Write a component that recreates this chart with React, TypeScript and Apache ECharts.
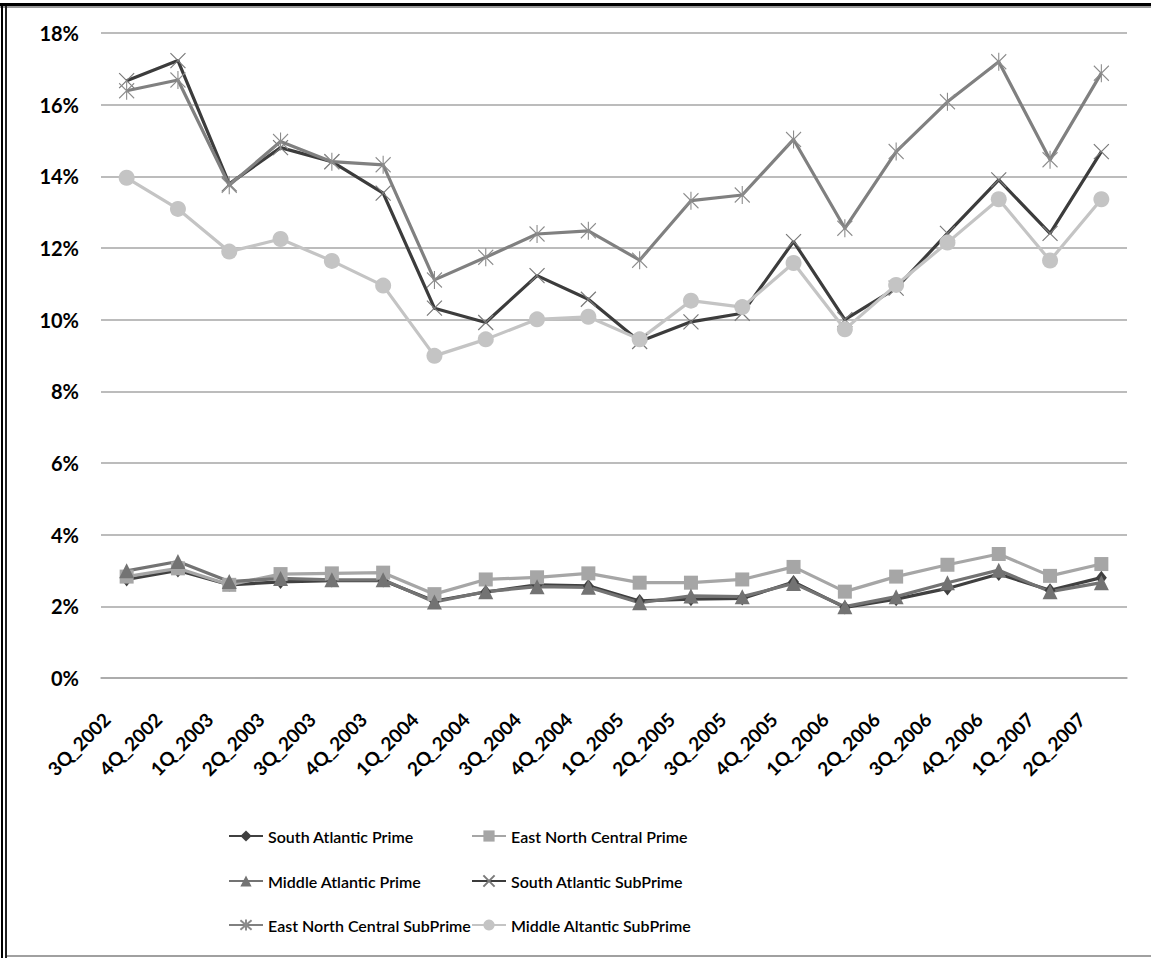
import React, { useEffect, useRef } from "react";
import * as echarts from "echarts";

const categories = [
  "3Q_2002", "4Q_2002", "1Q_2003", "2Q_2003", "3Q_2003", "4Q_2003",
  "1Q_2004", "2Q_2004", "3Q_2004", "4Q_2004", "1Q_2005", "2Q_2005",
  "3Q_2005", "4Q_2005", "1Q_2006", "2Q_2006", "3Q_2006", "4Q_2006",
  "1Q_2007", "2Q_2007",
];

const southAtlanticPrime = [2.75, 3.0, 2.6, 2.68, 2.72, 2.72, 2.15, 2.4, 2.6, 2.57, 2.15, 2.2, 2.22, 2.68, 1.97, 2.2, 2.5, 2.9, 2.45, 2.8];
const eastNorthCentralPrime = [2.83, 3.06, 2.6, 2.9, 2.92, 2.94, 2.34, 2.75, 2.81, 2.92, 2.66, 2.66, 2.75, 3.1, 2.41, 2.83, 3.16, 3.46, 2.85, 3.18];
const middleAtlanticPrime = [2.99, 3.25, 2.69, 2.78, 2.74, 2.74, 2.12, 2.41, 2.55, 2.53, 2.1, 2.29, 2.27, 2.64, 1.99, 2.27, 2.66, 3.01, 2.41, 2.66];
const southAtlanticSubPrime = [16.67, 17.23, 13.79, 14.8, 14.41, 13.53, 10.32, 9.92, 11.23, 10.57, 9.39, 9.94, 10.18, 12.18, 10.0, 10.88, 12.41, 13.9, 12.41, 14.69];
const eastNorthCentralSubPrime = [16.39, 16.69, 13.75, 14.97, 14.41, 14.32, 11.11, 11.74, 12.39, 12.48, 11.66, 13.32, 13.48, 15.03, 12.55, 14.69, 16.08, 17.2, 14.46, 16.88];
const middleAltanticSubPrime = [13.96, 13.09, 11.9, 12.25, 11.64, 10.95, 8.99, 9.45, 10.01, 10.08, 9.45, 10.53, 10.35, 11.58, 9.73, 10.97, 12.15, 13.36, 11.65, 13.36];

const yTicks = { min: 0, max: 18, interval: 2 };

const FONT = "Lato, 'Open Sans', sans-serif";

const xPath = "path://M0,0L10,10M10,0L0,10";
const starPath = "path://M0,1L10,11M10,1L0,11M5,0L5,12";

export default function App() {
  const ref = useRef<HTMLDivElement>(null);

  useEffect(() => {
    document.body.style.margin = "0";
    const chart = echarts.init(ref.current!, undefined, { renderer: "svg" });

    const mk = (
      name: string,
      data: number[],
      color: string,
      symbol: string,
      symbolSize: number | number[],
      markerColor: string,
      isPath = false
    ) => ({
      name,
      type: "line",
      data,
      symbol,
      symbolSize,
      showSymbol: true,
      showAllSymbol: true,
      lineStyle: { color, width: 3.2 },
      itemStyle: isPath
        ? { color: "rgba(0,0,0,0)", borderColor: markerColor, borderWidth: 1.2 }
        : { color: markerColor, borderWidth: 0 },
      emphasis: { disabled: true },
      z: 2,
    });

    const legendText = { fontFamily: FONT, fontSize: 16, fontWeight: 600, color: "#000", lineHeight: 20 };
    const legendItem = (name: string, left: number, cy: number) => ({
      data: [name],
      left,
      top: cy - 10,
      itemWidth: 34,
      itemHeight: 14,
      itemGap: 4,
      padding: 0,
      textStyle: legendText,
      selectedMode: false,
    });

    chart.setOption({
      animation: false,
      backgroundColor: "#fff",
      grid: { left: 101, right: 24, top: 33, bottom: 280, containLabel: false },
      xAxis: {
        type: "category",
        data: categories,
        boundaryGap: true,
        axisTick: { show: false },
        axisLine: { show: true, lineStyle: { color: "#a6a6a6", width: 1.5 } },
        axisLabel: {
          interval: 0,
          rotate: 45,
          margin: 18,
          padding: [0, 28, 0, 0],
          fontFamily: FONT,
          fontWeight: "bold",
          fontSize: 19,
          color: "#000",
        },
      },
      yAxis: {
        type: "value",
        min: yTicks.min,
        max: yTicks.max,
        interval: yTicks.interval,
        axisLine: { show: false },
        axisTick: { show: false },
        splitLine: { lineStyle: { color: "#a6a6a6", width: 1.5 } },
        axisLabel: {
          formatter: (v: number) => `${v}%`,
          margin: 22,
          fontFamily: FONT,
          fontWeight: "bold",
          fontSize: 20,
          color: "#000",
        },
      },
      legend: [
        legendItem("South Atlantic Prime", 228, 836),
        legendItem("East North Central Prime", 471, 836),
        legendItem("Middle Atlantic Prime", 228, 881),
        legendItem("South Atlantic SubPrime", 471, 881),
        legendItem("East North Central SubPrime", 228, 925),
        legendItem("Middle Altantic SubPrime", 471, 925),
      ],
      series: [
        mk("South Atlantic Prime", southAtlanticPrime, "#404040", "diamond", [11, 14], "#404040"),
        mk("East North Central Prime", eastNorthCentralPrime, "#a6a6a6", "rect", 14, "#a6a6a6"),
        mk("Middle Atlantic Prime", middleAtlanticPrime, "#737373", "triangle", 15, "#737373"),
        mk("South Atlantic SubPrime", southAtlanticSubPrime, "#3c3c3c", xPath, 15, "#7a7a7a", true),
        mk("East North Central SubPrime", eastNorthCentralSubPrime, "#808080", starPath, [15, 18], "#8c8c8c", true),
        mk("Middle Altantic SubPrime", middleAltanticSubPrime, "#c4c4c4", "circle", 16, "#c4c4c4"),
      ],
      graphic: [
        { type: "rect", left: 0, top: 3, shape: { width: 1151, height: 3 }, style: { fill: "#000" }, silent: true },
        { type: "rect", left: 0, top: 6, shape: { width: 1151, height: 2 }, style: { fill: "#9a9a9a" }, silent: true },
        { type: "rect", left: 1, top: 3, shape: { width: 2, height: 955 }, style: { fill: "#000" }, silent: true },
        { type: "rect", left: 5, top: 6, shape: { width: 2, height: 952 }, style: { fill: "#222" }, silent: true },
        { type: "rect", left: 7, top: 955, shape: { width: 1144, height: 2 }, style: { fill: "#a0a0a0" }, silent: true },
      ],
    });

    return () => chart.dispose();
  }, []);

  return (
    <div
      ref={ref}
      style={{ position: "absolute", left: 0, top: 0, width: 1151, height: 958 }}
    />
  );
}
